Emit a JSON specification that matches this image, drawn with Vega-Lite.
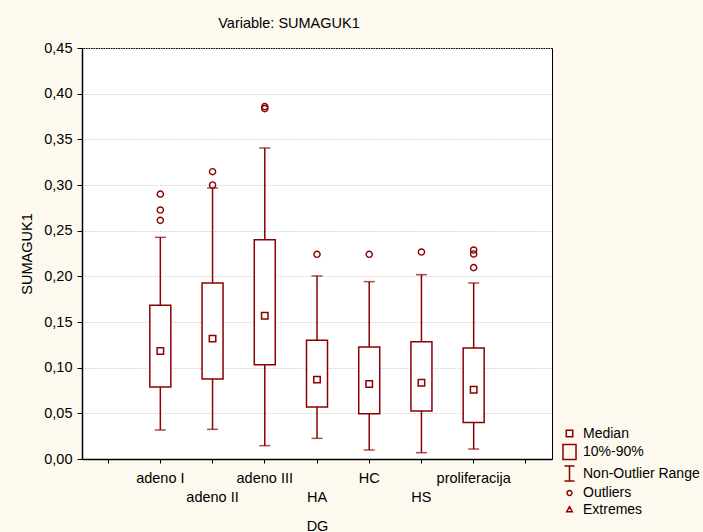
{
  "$schema": "https://vega.github.io/schema/vega-lite/v6.json",
  "width": 470,
  "height": 411,
  "autosize": {"type": "none"},
  "padding": {"left": 82, "top": 48, "right": 151, "bottom": 73},
  "background": "#fdf9ef",
  "title": {"text": "Variable: SUMAGUK1", "fontSize": 14.5, "fontWeight": "normal", "font": "Liberation Sans", "color": "black", "anchor": "middle", "frame": "group", "dx": -28, "offset": 9},
  "config": {
    "font": "Liberation Sans",
    "view": {"stroke": "black", "strokeWidth": 1, "fill": "white"},
    "axis": {"labelFont": "Liberation Sans", "titleFont": "Liberation Sans", "labelFontSize": 14.5, "titleFontSize": 14.5, "titleFontWeight": "normal", "labelColor": "black", "titleColor": "black", "domainColor": "black", "domainWidth": 1.5, "tickColor": "black", "tickWidth": 1}
  },
  "datasets": {
    "boxes": [
      {"DG": "adeno I", "lo": 0.0318, "q1": 0.0788, "med": 0.1183, "q3": 0.1683, "hi": 0.2427},
      {"DG": "adeno II", "lo": 0.0325, "q1": 0.0876, "med": 0.1318, "q3": 0.1927, "hi": 0.2967},
      {"DG": "adeno III", "lo": 0.0146, "q1": 0.1033, "med": 0.1569, "q3": 0.2401, "hi": 0.3405},
      {"DG": "HA", "lo": 0.0226, "q1": 0.0569, "med": 0.0869, "q3": 0.130, "hi": 0.2004},
      {"DG": "HC", "lo": 0.0099, "q1": 0.0496, "med": 0.0821, "q3": 0.1226, "hi": 0.1942},
      {"DG": "HS", "lo": 0.0069, "q1": 0.0526, "med": 0.0836, "q3": 0.1285, "hi": 0.2018},
      {"DG": "proliferacija", "lo": 0.0109, "q1": 0.0401, "med": 0.0759, "q3": 0.1215, "hi": 0.1927}
    ],
    "outliers": [
      {"DG": "adeno I", "v": 0.290},
      {"DG": "adeno I", "v": 0.2726},
      {"DG": "adeno I", "v": 0.2613},
      {"DG": "adeno II", "v": 0.3146},
      {"DG": "adeno II", "v": 0.300},
      {"DG": "adeno III", "v": 0.3858},
      {"DG": "adeno III", "v": 0.3836},
      {"DG": "HA", "v": 0.2241},
      {"DG": "HC", "v": 0.2241},
      {"DG": "HS", "v": 0.2266},
      {"DG": "proliferacija", "v": 0.2288},
      {"DG": "proliferacija", "v": 0.2245},
      {"DG": "proliferacija", "v": 0.2095}
    ],
    "legend": [
      {"item": "Median"},
      {"item": "10%-90%"},
      {"item": "Non-Outlier Range"},
      {"item": "Outliers"},
      {"item": "Extremes"}
    ]
  },
  "encoding": {
    "x": {
      "field": "DG", "type": "nominal", "title": "DG",
      "scale": {"type": "band", "domain": [" ", "adeno I", "adeno II", "adeno III", "HA", "HC", "HS", "proliferacija", "  "], "paddingInner": 0, "paddingOuter": 0},
      "axis": {"labelAngle": 0, "bandPosition": 0.5, "tickSize": 4, "grid": false,
        "labelPadding": {"condition": {"test": "indexof(['adeno II','HA','HS'], datum.value) >= 0", "value": 27}, "value": 8},
        "titleY": 67, "titleBaseline": "middle"}
    }
  },
  "layer": [
    {
      "data": {"name": "boxes"},
      "mark": {"type": "rule", "color": "#8B0000", "strokeWidth": 1.5},
      "encoding": {
        "y": {"field": "lo", "type": "quantitative", "title": "SUMAGUK1",
          "scale": {"domain": [0, 0.45], "nice": false, "zero": true},
          "axis": {"values": [0, 0.05, 0.1, 0.15, 0.2, 0.25, 0.3, 0.35, 0.4, 0.45], "labelExpr": "replace(format(datum.value, '.2f'), '.', ',')", "tickSize": 5, "labelPadding": 5, "grid": true, "gridColor": "#c4c4c4", "gridDash": [1, 1.5], "gridWidth": 1, "titleX": -55, "titleBaseline": "middle"}},
        "y2": {"field": "hi"}
      }
    },
    {
      "data": {"name": "boxes"},
      "mark": {"type": "tick", "color": "#8B0000", "size": 11, "thickness": 1.5},
      "encoding": {"y": {"field": "lo", "type": "quantitative"}}
    },
    {
      "data": {"name": "boxes"},
      "mark": {"type": "tick", "color": "#8B0000", "size": 11, "thickness": 1.5},
      "encoding": {"y": {"field": "hi", "type": "quantitative"}}
    },
    {
      "data": {"name": "boxes"},
      "mark": {"type": "bar", "fill": "white", "stroke": "#8B0000", "strokeWidth": 1.5, "width": 21},
      "encoding": {"y": {"field": "q1", "type": "quantitative"}, "y2": {"field": "q3"}}
    },
    {
      "data": {"name": "boxes"},
      "mark": {"type": "point", "shape": "square", "filled": false, "fill": "white", "fillOpacity": 1, "stroke": "#8B0000", "strokeWidth": 1.5, "size": 42, "opacity": 1},
      "encoding": {"y": {"field": "med", "type": "quantitative"}}
    },
    {
      "data": {"name": "outliers"},
      "mark": {"type": "point", "shape": "circle", "filled": false, "stroke": "#8B0000", "strokeWidth": 1.4, "size": 38, "opacity": 1},
      "encoding": {"y": {"field": "v", "type": "quantitative"}}
    },
    {
      "data": {"name": "legend"},
      "mark": {"type": "point", "filled": false, "color": "#8B0000", "opacity": 0},
      "encoding": {
        "x": {"value": 0},
        "y": {"value": 0},
        "shape": {
          "field": "item", "type": "nominal",
          "scale": {
            "domain": ["Median", "10%-90%", "Non-Outlier Range", "Outliers", "Extremes"],
            "range": [
              "M-0.43,-0.43H0.43V0.43H-0.43Z",
              "M-0.87,-1H0.87V1H-0.87Z",
              "M-0.67,-1H0.67M0,-1V1M-0.67,1H0.67",
              "M0.33,0A0.33,0.33 0 1,1 -0.33,0A0.33,0.33 0 1,1 0.33,0Z",
              "M0,-0.37L0.37,0.3H-0.37Z"
            ]
          },
          "legend": {"title": null, "orient": "none", "legendX": 479, "legendY": 377, "padding": 0, "symbolSize": 225, "symbolOpacity": 1, "symbolStrokeColor": "#8B0000", "symbolFillColor": "transparent", "symbolStrokeWidth": 1.5, "labelFont": "Liberation Sans", "labelFontSize": 14, "labelColor": "black", "labelOffset": 5, "rowPadding": 0.5}
        }
      }
    }
  ]
}
